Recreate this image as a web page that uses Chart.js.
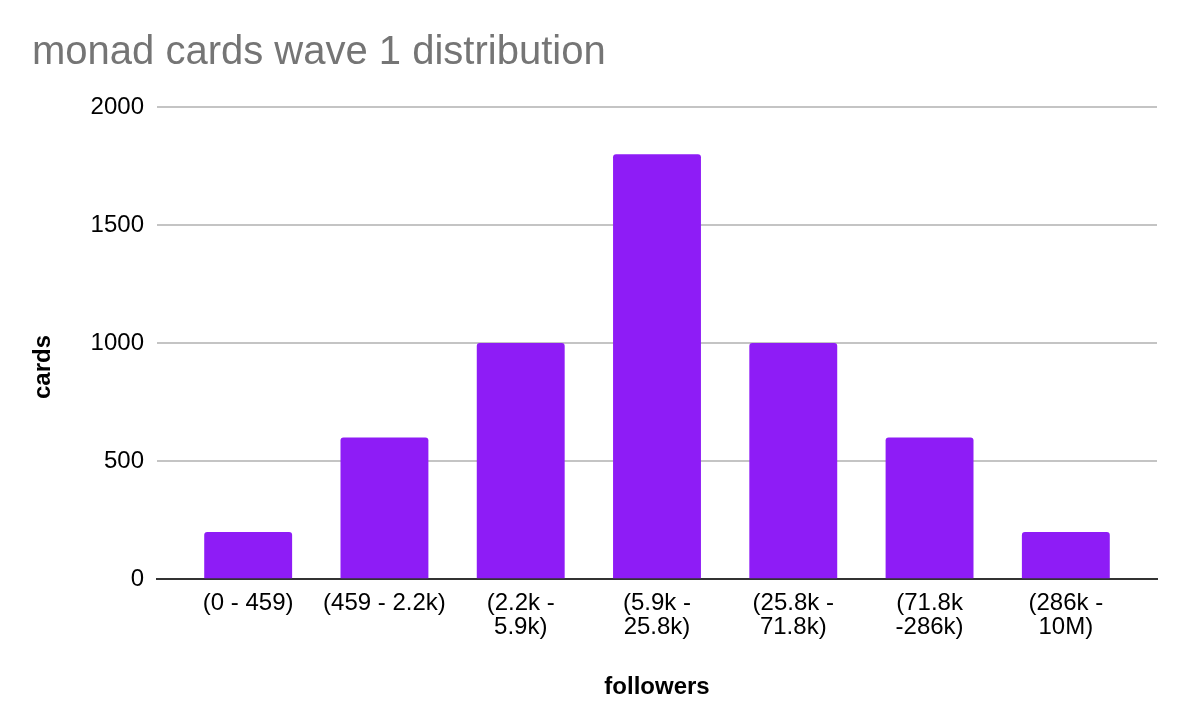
<!DOCTYPE html>
<html>
<head>
<meta charset="utf-8">
<style>
  html, body { margin: 0; padding: 0; background: #fff; }
  #wrap { width: 1184px; height: 722px; }
</style>
<script src="https://cdn.jsdelivr.net/npm/chart.js@4"></script>
</head>
<body>
<div id="wrap"><canvas id="cardsChart" width="1184" height="722"></canvas></div>
<script>
const categories = [
  ['(0 - 459)'],
  ['(459 - 2.2k)'],
  ['(2.2k -', '5.9k)'],
  ['(5.9k -', '25.8k)'],
  ['(25.8k -', '71.8k)'],
  ['(71.8k', '-286k)'],
  ['(286k -', '10M)']
];
const cards = [200, 600, 1000, 1800, 1000, 600, 200];
const yTicks = [0, 500, 1000, 1500, 2000];

const ctx = document.getElementById('cardsChart').getContext('2d');

// y axis title sits below the middle of the plot in the original
const cardsTitle = {
  id: 'cardsTitle',
  afterDraw(chart) {
    const c = chart.ctx;
    c.save();
    c.translate(43, 367);
    c.rotate(-Math.PI / 2);
    c.font = 'bold 24px "Liberation Sans"';
    c.fillStyle = '#000';
    c.textAlign = 'center';
    c.textBaseline = 'middle';
    c.fillText('cards', 0, 0);
    c.restore();
  }
};

// linear x axis so the baseline can run past the first and last category
new Chart(ctx, {
  type: 'bar',
  plugins: [cardsTitle],
  data: {
    datasets: [{
      data: cards.map((v, i) => ({ x: i, y: v })),
      backgroundColor: '#8e1cf6',
      borderRadius: { topLeft: 3, topRight: 3 },
      borderSkipped: 'bottom',
      categoryPercentage: 0.645,
      barPercentage: 1
    }]
  },
  options: {
    responsive: false,
    animation: false,
    layout: { padding: { left: 32, right: 27, top: 29, bottom: 20 } },
    plugins: {
      legend: { display: false },
      tooltip: { enabled: false },
      title: {
        display: true,
        text: 'monad cards wave 1 distribution',
        align: 'start',
        color: '#757575',
        font: { family: 'Liberation Sans', size: 40, weight: 'normal' },
        padding: { top: 0, bottom: 30 }
      }
    },
    scales: {
      x: {
        type: 'linear',
        offset: false,
        min: -0.669,
        max: 6.669,
        afterBuildTicks(axis) {
          axis.ticks = categories.map((c, i) => ({ value: i }));
        },
        grid: { display: false, drawTicks: false },
        border: { color: '#333', width: 2 },
        ticks: {
          color: '#000',
          maxRotation: 0,
          autoSkip: false,
          padding: 12,
          callback: (v) => categories[v],
          font: { family: 'Liberation Sans', size: 24, lineHeight: 1 }
        },
        title: {
          display: true,
          text: 'followers',
          color: '#000',
          font: { family: 'Liberation Sans', size: 24, weight: 'bold' },
          padding: { top: 22, bottom: 0 }
        }
      },
      y: {
        min: 0,
        max: 2000,
        afterBuildTicks(axis) {
          axis.ticks = yTicks.map(v => ({ value: v }));
        },
        afterFit(axis) {
          axis.width = 125;
        },
        grid: { color: '#c4c4c4', lineWidth: 2, drawTicks: false },
        border: { display: false },
        ticks: {
          color: '#000',
          padding: 13,
          callback: (v) => String(v),
          font: { family: 'Liberation Sans', size: 24 }
        }
      }
    }
  }
});
</script>
</body>
</html>
